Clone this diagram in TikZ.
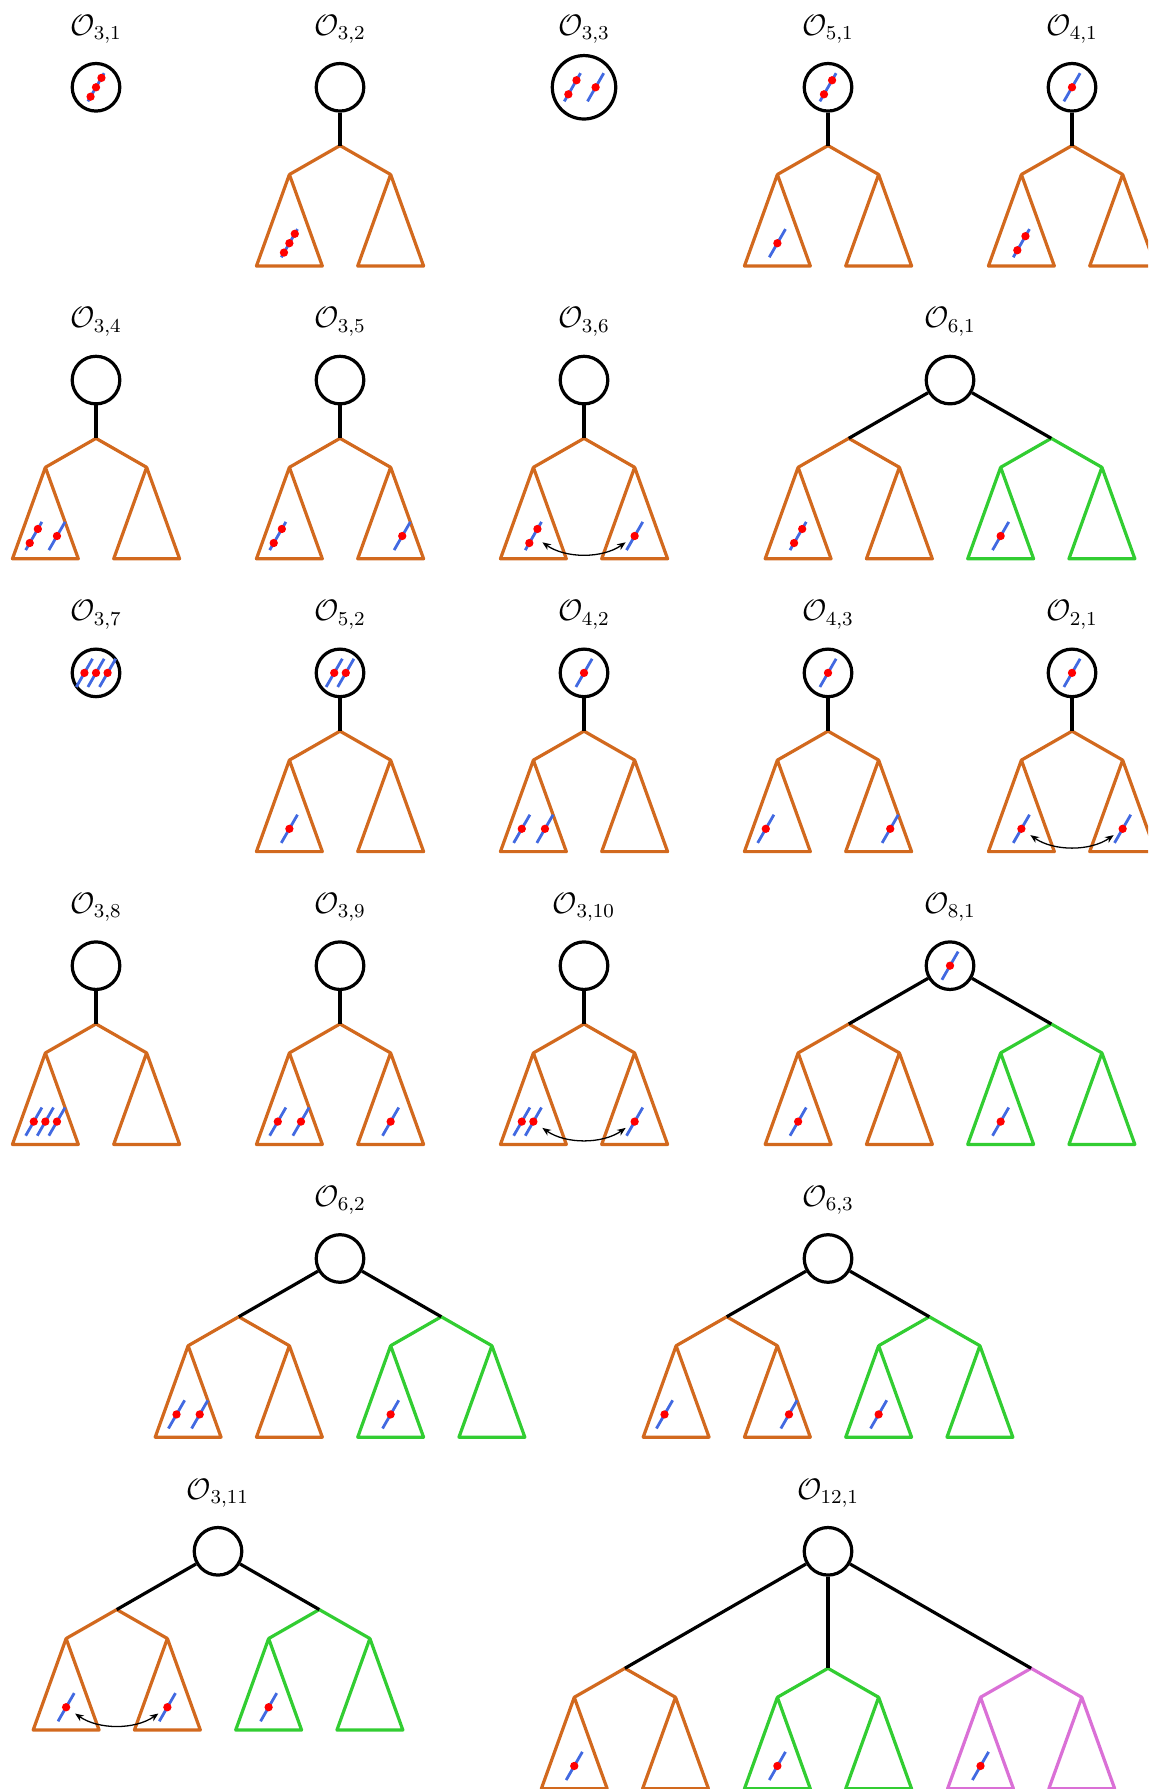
\documentclass[tikz,border=0pt]{standalone}
\usepackage{xcolor}
\usepackage{tikz}
\usetikzlibrary{arrows.meta}
\definecolor{treeorange}{HTML}{D2691E}
\definecolor{treegreen}{HTML}{32CD32}
\definecolor{treepink}{HTML}{DA70D6}
\definecolor{rodblue}{HTML}{4169E1}
\definecolor{dotred}{HTML}{FF0000}
\tikzset{
  orb/.style={circle, draw, line width=1.5pt, minimum size=0.78cm, inner sep=0pt},
  orbbig/.style={orb, minimum size=1.04cm},
  tag/.style={anchor=base, font=\large, scale=1.15},
  link/.style={line width=1.5pt},
  branch/.style={line width=1.5pt, line join=round},
  rodline/.style={draw=rodblue, line width=1.3pt},
  swaparrow/.style={<->, >={Stealth[length=4pt, width=3.2pt]}, line width=0.6pt,
    bend right=35, shorten <=0.18cm, shorten >=0.18cm},
  pics/split/.style={code={
      \coordinate (-j) at (0,0);
      \coordinate (-l) at (-0.83,-0.475);
      \coordinate (-r) at (0.83,-0.475);
      \coordinate (-lc) at (-0.83,-1.601);
      \coordinate (-rc) at (0.83,-1.601);
      \draw[branch, #1] (-l) -- (-j) -- (-r);
      \draw[branch, #1] (-l) -- ++(-0.54,-1.5) -- ++(1.08,0) -- cycle;
      \draw[branch, #1] (-r) -- ++(-0.54,-1.5) -- ++(1.08,0) -- cycle;
  }},
  pics/rod/.style={code={
      \coordinate (-c) at (0,0);
      \draw[rodline] (-0.133,-0.231) -- (0.133,0.231);
      \foreach \t in {#1} \fill[dotred] ({0.5*(\t)},{0.866*(\t)}) circle (0.068);
  }},
}

\begin{document}
\begin{tikzpicture}
  \useasboundingbox (-1.574,1.431) rectangle (17.246,-27.897);
  \clip (-1.574,1.431) rectangle (17.246,-27.897);

  \node[orb] (o31) at (0,0) {};
  \node[tag] (t31) at ([yshift=0.855cm]o31.center) {$\mathcal{O}_{3,1}$};
  \pic (p31) at (o31.center) {rod={-0.178,0,0.178}};

  \node[orb] (o32) at (4,0) {};
  \node[tag] (t32) at ([yshift=0.855cm]o32.center) {$\mathcal{O}_{3,2}$};
  \pic (s32) at (4,-0.955) {split=treeorange};
  \draw[link] (o32) -- (s32-j);
  \pic (p32) at (s32-lc) {rod={-0.178,0,0.178}};

  \node[orbbig] (o33) at (8,0) {};
  \node[tag] (t33) at ([yshift=0.855cm]o33.center) {$\mathcal{O}_{3,3}$};
  \pic (p33a) at ([xshift=-0.19cm]o33.center) {rod={-0.133,0.133}};
  \pic (p33b) at ([xshift=0.19cm]o33.center) {rod=0};

  \node[orb] (o51) at (12,0) {};
  \node[tag] (t51) at ([yshift=0.855cm]o51.center) {$\mathcal{O}_{5,1}$};
  \pic (s51) at (12,-0.955) {split=treeorange};
  \draw[link] (o51) -- (s51-j);
  \pic (p51a) at (o51.center) {rod={-0.133,0.133}};
  \pic (p51b) at (s51-lc) {rod=0};

  \node[orb] (o41) at (16,0) {};
  \node[tag] (t41) at ([yshift=0.855cm]o41.center) {$\mathcal{O}_{4,1}$};
  \pic (s41) at (16,-0.955) {split=treeorange};
  \draw[link] (o41) -- (s41-j);
  \pic (p41a) at (o41.center) {rod=0};
  \pic (p41b) at (s41-lc) {rod={-0.133,0.133}};

  \node[orb] (o34) at (0,-4.8) {};
  \node[tag] (t34) at ([yshift=0.855cm]o34.center) {$\mathcal{O}_{3,4}$};
  \pic (s34) at (0,-5.755) {split=treeorange};
  \draw[link] (o34) -- (s34-j);
  \pic (p34a) at ([xshift=-0.19cm]s34-lc) {rod={-0.133,0.133}};
  \pic (p34b) at ([xshift=0.19cm]s34-lc) {rod=0};

  \node[orb] (o35) at (4,-4.8) {};
  \node[tag] (t35) at ([yshift=0.855cm]o35.center) {$\mathcal{O}_{3,5}$};
  \pic (s35) at (4,-5.755) {split=treeorange};
  \draw[link] (o35) -- (s35-j);
  \pic (p35a) at ([xshift=-0.19cm]s35-lc) {rod={-0.133,0.133}};
  \pic (p35b) at ([xshift=0.19cm]s35-rc) {rod=0};

  \node[orb] (o36) at (8,-4.8) {};
  \node[tag] (t36) at ([yshift=0.855cm]o36.center) {$\mathcal{O}_{3,6}$};
  \pic (s36) at (8,-5.755) {split=treeorange};
  \draw[link] (o36) -- (s36-j);
  \pic (p36a) at (s36-lc) {rod={-0.133,0.133}};
  \pic (p36b) at (s36-rc) {rod=0};
  \draw[swaparrow] (p36a-c) to (p36b-c);

  \node[orb] (o61) at (14,-4.8) {};
  \node[tag] (t61) at ([yshift=0.855cm]o61.center) {$\mathcal{O}_{6,1}$};
  \pic (a61) at (12.34,-5.755) {split=treeorange};
  \pic (b61) at (15.66,-5.755) {split=treegreen};
  \draw[link] (o61) -- (a61-j);
  \draw[link] (o61) -- (b61-j);
  \pic (p61a) at (a61-lc) {rod={-0.133,0.133}};
  \pic (p61b) at (b61-lc) {rod=0};

  \node[orb] (o37) at (0,-9.6) {};
  \node[tag] (t37) at ([yshift=0.855cm]o37.center) {$\mathcal{O}_{3,7}$};
  \pic (p37a) at ([xshift=-0.19cm]o37.center) {rod=0};
  \pic (p37b) at (o37.center) {rod=0};
  \pic (p37c) at ([xshift=0.19cm]o37.center) {rod=0};

  \node[orb] (o52) at (4,-9.6) {};
  \node[tag] (t52) at ([yshift=0.855cm]o52.center) {$\mathcal{O}_{5,2}$};
  \pic (s52) at (4,-10.555) {split=treeorange};
  \draw[link] (o52) -- (s52-j);
  \pic (p52a) at ([xshift=-0.095cm]o52.center) {rod=0};
  \pic (p52b) at ([xshift=0.095cm]o52.center) {rod=0};
  \pic (p52c) at (s52-lc) {rod=0};

  \node[orb] (o42) at (8,-9.6) {};
  \node[tag] (t42) at ([yshift=0.855cm]o42.center) {$\mathcal{O}_{4,2}$};
  \pic (s42) at (8,-10.555) {split=treeorange};
  \draw[link] (o42) -- (s42-j);
  \pic (p42a) at (o42.center) {rod=0};
  \pic (p42b) at ([xshift=-0.19cm]s42-lc) {rod=0};
  \pic (p42c) at ([xshift=0.19cm]s42-lc) {rod=0};

  \node[orb] (o43) at (12,-9.6) {};
  \node[tag] (t43) at ([yshift=0.855cm]o43.center) {$\mathcal{O}_{4,3}$};
  \pic (s43) at (12,-10.555) {split=treeorange};
  \draw[link] (o43) -- (s43-j);
  \pic (p43a) at (o43.center) {rod=0};
  \pic (p43b) at ([xshift=-0.19cm]s43-lc) {rod=0};
  \pic (p43c) at ([xshift=0.19cm]s43-rc) {rod=0};

  \node[orb] (o21) at (16,-9.6) {};
  \node[tag] (t21) at ([yshift=0.855cm]o21.center) {$\mathcal{O}_{2,1}$};
  \pic (s21) at (16,-10.555) {split=treeorange};
  \draw[link] (o21) -- (s21-j);
  \pic (p21a) at (o21.center) {rod=0};
  \pic (p21b) at (s21-lc) {rod=0};
  \pic (p21c) at (s21-rc) {rod=0};
  \draw[swaparrow] (p21b-c) to (p21c-c);

  \node[orb] (o38) at (0,-14.4) {};
  \node[tag] (t38) at ([yshift=0.855cm]o38.center) {$\mathcal{O}_{3,8}$};
  \pic (s38) at (0,-15.355) {split=treeorange};
  \draw[link] (o38) -- (s38-j);
  \pic (p38a) at ([xshift=-0.19cm]s38-lc) {rod=0};
  \pic (p38b) at (s38-lc) {rod=0};
  \pic (p38c) at ([xshift=0.19cm]s38-lc) {rod=0};

  \node[orb] (o39) at (4,-14.4) {};
  \node[tag] (t39) at ([yshift=0.855cm]o39.center) {$\mathcal{O}_{3,9}$};
  \pic (s39) at (4,-15.355) {split=treeorange};
  \draw[link] (o39) -- (s39-j);
  \pic (p39a) at ([xshift=-0.19cm]s39-lc) {rod=0};
  \pic (p39b) at ([xshift=0.19cm]s39-lc) {rod=0};
  \pic (p39c) at (s39-rc) {rod=0};

  \node[orb] (o310) at (8,-14.4) {};
  \node[tag] (t310) at ([yshift=0.855cm]o310.center) {$\mathcal{O}_{3,10}$};
  \pic (s310) at (8,-15.355) {split=treeorange};
  \draw[link] (o310) -- (s310-j);
  \pic (p310a) at ([xshift=-0.19cm]s310-lc) {rod=0};
  \pic (p310b) at (s310-lc) {rod=0};
  \pic (p310c) at (s310-rc) {rod=0};
  \draw[swaparrow] (p310b-c) to (p310c-c);

  \node[orb] (o81) at (14,-14.4) {};
  \node[tag] (t81) at ([yshift=0.855cm]o81.center) {$\mathcal{O}_{8,1}$};
  \pic (a81) at (12.34,-15.355) {split=treeorange};
  \pic (b81) at (15.66,-15.355) {split=treegreen};
  \draw[link] (o81) -- (a81-j);
  \draw[link] (o81) -- (b81-j);
  \pic (p81a) at (o81.center) {rod=0};
  \pic (p81b) at (a81-lc) {rod=0};
  \pic (p81c) at (b81-lc) {rod=0};

  \node[orb] (o62) at (4,-19.2) {};
  \node[tag] (t62) at ([yshift=0.855cm]o62.center) {$\mathcal{O}_{6,2}$};
  \pic (a62) at (2.34,-20.155) {split=treeorange};
  \pic (b62) at (5.66,-20.155) {split=treegreen};
  \draw[link] (o62) -- (a62-j);
  \draw[link] (o62) -- (b62-j);
  \pic (p62a) at ([xshift=-0.19cm]a62-lc) {rod=0};
  \pic (p62b) at ([xshift=0.19cm]a62-lc) {rod=0};
  \pic (p62c) at (b62-lc) {rod=0};

  \node[orb] (o63) at (12,-19.2) {};
  \node[tag] (t63) at ([yshift=0.855cm]o63.center) {$\mathcal{O}_{6,3}$};
  \pic (a63) at (10.34,-20.155) {split=treeorange};
  \pic (b63) at (13.66,-20.155) {split=treegreen};
  \draw[link] (o63) -- (a63-j);
  \draw[link] (o63) -- (b63-j);
  \pic (p63a) at ([xshift=-0.19cm]a63-lc) {rod=0};
  \pic (p63b) at ([xshift=0.19cm]a63-rc) {rod=0};
  \pic (p63c) at (b63-lc) {rod=0};

  \node[orb] (o311) at (2,-24) {};
  \node[tag] (t311) at ([yshift=0.855cm]o311.center) {$\mathcal{O}_{3,11}$};
  \pic (a311) at (0.34,-24.955) {split=treeorange};
  \pic (b311) at (3.66,-24.955) {split=treegreen};
  \draw[link] (o311) -- (a311-j);
  \draw[link] (o311) -- (b311-j);
  \pic (p311a) at (a311-lc) {rod=0};
  \pic (p311b) at (a311-rc) {rod=0};
  \pic (p311c) at (b311-lc) {rod=0};
  \draw[swaparrow] (p311a-c) to (p311b-c);

  \node[orb] (o121) at (12,-24) {};
  \node[tag] (t121) at ([yshift=0.855cm]o121.center) {$\mathcal{O}_{12,1}$};
  \pic (a121) at (8.67,-25.918) {split=treeorange};
  \pic (b121) at (12,-25.918) {split=treegreen};
  \pic (c121) at (15.33,-25.918) {split=treepink};
  \draw[link] (o121) -- (a121-j);
  \draw[link] (o121) -- (b121-j);
  \draw[link] (o121) -- (c121-j);
  \pic (p121a) at (a121-lc) {rod=0};
  \pic (p121b) at (b121-lc) {rod=0};
  \pic (p121c) at (c121-lc) {rod=0};
\end{tikzpicture}
\end{document}
